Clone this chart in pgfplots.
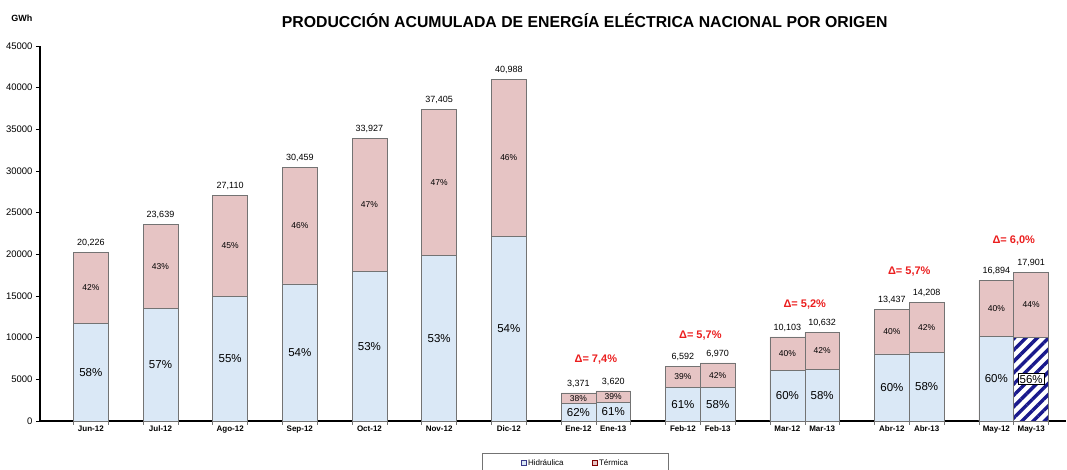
\documentclass[border=0pt]{standalone}
\usepackage{fontspec}
\setmainfont{Liberation Sans}
\usepackage{pgfplots}
\usepackage{pgfplotstable}
\pgfplotsset{compat=1.18}
\usetikzlibrary{patterns.meta}

\definecolor{hidro}{RGB}{218,232,246}
\definecolor{termo}{RGB}{230,196,196}
\definecolor{borde}{RGB}{115,115,115}
\definecolor{rayas}{RGB}{25,25,140}
\definecolor{delta}{RGB}{235,30,30}

\newcommand{\fs}[1]{\fontsize{#1}{#1}\selectfont}

% x: posicion de la barra, hydro: GWh hidraulica, total: GWh total
\pgfplotstableread{
x    hydro total hpct tpct
0    11731 20226 58 42
1    13474 23639 57 43
2    14911 27110 55 45
3    16448 30459 54 46
4    17981 33927 53 47
5    19825 37405 53 47
6    22134 40988 54 46
7    2090  3371  62 38
7.5  2208  3620  61 39
8.5  4021  6592  61 39
9    4043  6970  58 42
10   6062  10103 60 40
10.5 6167  10632 58 42
11.5 8062  13437 60 40
12   8241  14208 58 42
13   10136 16894 60 40
}\datos

\pgfplotstableread{
x    hydro total hpct tpct
13.5 10025 17901 56 44
}\mayo

\begin{document}
\begin{tikzpicture}
\begin{axis}[
  name=ax,
  scale only axis,
  width=1026pt,
  height=375pt,
  xmin=-0.73, xmax=14,
  ymin=0, ymax=45000,
  clip=false,
  axis lines*=left,
  axis line style={line width=1.1pt, black},
  tick align=outside,
  major tick length=4pt,
  /pgf/number format/assume math mode=true,
  scaled y ticks=false,
  ytick={0,5000,...,45000},
  yticklabel style={font=\fs{9.5}, /pgf/number format/1000 sep={}},
  y tick style={black, line width=0.6pt},
  xtick={-0.25,0.25,0.75,1.25,1.75,2.25,2.75,3.25,3.75,4.25,4.75,5.25,5.75,6.25,
         6.75,7.25,7.75,8.25,8.75,9.25,9.75,10.25,10.75,11.25,11.75,12.25,12.75,13.25,13.75},
  xticklabels={},
  x tick style={black!55, line width=0.6pt},
  extra x ticks={0,1,2,3,4,5,6,7,7.5,8.5,9,10,10.5,11.5,12,13,13.5},
  extra x tick labels={Jun-12,Jul-12,Ago-12,Sep-12,Oct-12,Nov-12,Dic-12,Ene-12,Ene-13,
                       Feb-12,Feb-13,Mar-12,Mar-13,Abr-12,Abr-13,May-12,May-13},
  extra x tick style={major tick length=0pt,
    tick label style={font=\fs{8}\bfseries, yshift=-1pt}},
  legend style={at={(axis cs:5.62,-3840)}, anchor=north west,
    draw=black!55, font=\fs{8}, inner xsep=38pt, inner ysep=4pt,
    legend columns=2,
    /tikz/every even column/.append style={column sep=26pt}},
]

% totales (termica debajo de la hidraulica)
\addplot[ybar, bar width=0.5, bar shift=0pt, fill=termo, draw=borde, line width=0.6pt,
  forget plot, point meta=y,
  nodes near coords={\pgfmathprintnumber[fixed,precision=0,1000 sep={,}]{\pgfplotspointmeta}},
  nodes near coords style={font=\fs{9}, anchor=south, yshift=2pt}]
  table[x=x, y=total] {\datos};
\addplot[ybar, bar width=0.5, bar shift=0pt, fill=termo, draw=borde, line width=0.6pt,
  forget plot, point meta=y,
  nodes near coords={\pgfmathprintnumber[fixed,precision=0,1000 sep={,}]{\pgfplotspointmeta}},
  nodes near coords style={font=\fs{9}, anchor=south, yshift=2pt}]
  table[x=x, y=total] {\mayo};

% hidraulica
\addplot[ybar, bar width=0.5, bar shift=0pt, fill=hidro, draw=borde, line width=0.6pt, forget plot]
  table[x=x, y=hydro] {\datos};
\addplot[ybar, bar width=0.5, bar shift=0pt, fill=white, draw=borde, line width=0.6pt, forget plot]
  table[x=x, y=hydro] {\mayo};
\addplot[ybar, bar width=0.5, bar shift=0pt, draw=borde, line width=0.6pt, forget plot,
  pattern={Lines[angle=45, distance=8pt, line width=3.4pt]}, pattern color=rayas]
  table[x=x, y=hydro] {\mayo};

% porcentajes
\addplot[draw=none, forget plot, point meta=explicit,
  nodes near coords={\pgfmathprintnumber{\pgfplotspointmeta}\%},
  nodes near coords style={font=\fs{11.5}, anchor=center}]
  table[x=x, y expr=\thisrow{hydro}/2, meta=hpct] {\datos};
\addplot[draw=none, forget plot, point meta=explicit,
  nodes near coords={\pgfmathprintnumber{\pgfplotspointmeta}\%},
  nodes near coords style={font=\fs{11.5}, anchor=center, fill=white, draw=black,
    line width=0.6pt, inner sep=1.5pt}]
  table[x=x, y expr=\thisrow{hydro}/2, meta=hpct] {\mayo};
\addplot[draw=none, forget plot, point meta=explicit,
  nodes near coords={\pgfmathprintnumber{\pgfplotspointmeta}\%},
  nodes near coords style={font=\fs{8.5}, anchor=center}]
  table[x=x, y expr=(\thisrow{hydro}+\thisrow{total})/2, meta=tpct] {\datos};
\addplot[draw=none, forget plot, point meta=explicit,
  nodes near coords={\pgfmathprintnumber{\pgfplotspointmeta}\%},
  nodes near coords style={font=\fs{8.5}, anchor=center}]
  table[x=x, y expr=(\thisrow{hydro}+\thisrow{total})/2, meta=tpct] {\mayo};

\addlegendimage{legend image code/.code={\draw[fill=hidro, draw=rayas!70!gray, line width=0.5pt] (0pt,-2.5pt) rectangle (5pt,2.5pt);}}
\addlegendentry{Hidráulica}
\addlegendimage{legend image code/.code={\draw[fill=termo, draw=red!50!black, line width=0.5pt] (0pt,-2.5pt) rectangle (5pt,2.5pt);}}
\addlegendentry{Térmica}

% variaciones interanuales
\node[font=\fs{11}\bfseries, text=delta] at (axis cs:7.25,7400) {Δ= 7,4\%};
\node[font=\fs{11}\bfseries, text=delta] at (axis cs:8.75,10300) {Δ= 5,7\%};
\node[font=\fs{11}\bfseries, text=delta] at (axis cs:10.25,14000) {Δ= 5,2\%};
\node[font=\fs{11}\bfseries, text=delta] at (axis cs:11.75,17900) {Δ= 5,7\%};
\node[font=\fs{11}\bfseries, text=delta] at (axis cs:13.25,21700) {Δ= 6,0\%};

\node[font=\fs{15.8}\bfseries] at (axis cs:7.09,48100)
  {PRODUCCIÓN ACUMULADA DE ENERGÍA ELÉCTRICA NACIONAL POR ORIGEN};
\node[font=\fs{9}\bfseries] at (axis cs:-0.99,48360) {GWh};
\end{axis}
\pgfresetboundingbox
\useasboundingbox ([xshift=-40pt,yshift=-49pt]ax.south west) rectangle ++(1067pt,470pt);
\end{tikzpicture}
\end{document}
